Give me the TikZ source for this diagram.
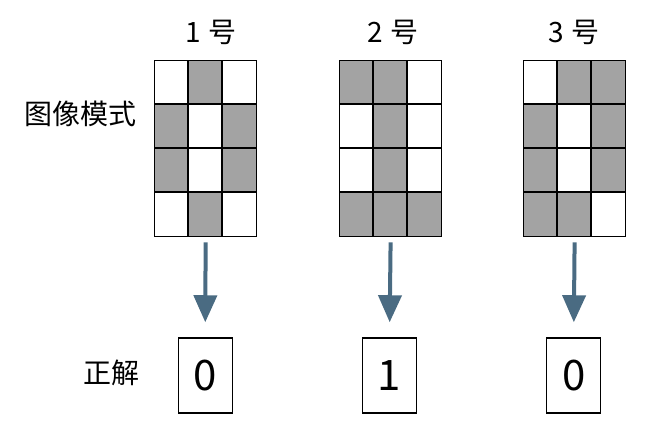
\documentclass[tikz,border=0pt]{standalone}
\usepackage{fontspec}
\setmainfont{Noto Sans CJK SC}
\usetikzlibrary{arrows.meta}
\definecolor{cellgray}{HTML}{A3A3A3}
\definecolor{arrowblue}{HTML}{4A6B82}
\tikzset{
  cellfill/.style={fill=cellgray, minimum width=34pt, minimum height=44pt, inner sep=0pt, anchor=north west},
  gridbox/.style={draw=black, line width=1.3pt, minimum width=102pt, minimum height=176pt, inner sep=0pt, anchor=north west},
  gridline/.style={draw=black, line width=1.3pt},
  ansbox/.style={draw=black, line width=1.3pt, minimum width=54pt, minimum height=75pt, inner sep=0pt, font=\fontsize{42}{46}\selectfont},
  toplabel/.style={font=\fontsize{28}{32}\selectfont, inner sep=0pt},
  sidelabel/.style={font=\fontsize{28}{32}\selectfont, inner sep=0pt},
  flow/.style={draw=arrowblue, line width=4pt, -{Triangle[width=23pt,length=27pt]}, shorten <=5pt, shorten >=15pt}
}
\begin{document}
\begin{tikzpicture}[x=1pt,y=-1pt]
\useasboundingbox (0,0) rectangle (653,431);
% grids
\foreach \gx/\gname/\pat in {154/a/{0,1,0,1,0,1,1,0,1,0,1,0}, 339/b/{1,1,0,0,1,0,0,1,0,1,1,1}, 523/c/{0,1,1,1,0,1,1,0,1,1,1,0}}{
  \foreach \v [count=\i from 0] in \pat {
    \pgfmathtruncatemacro{\col}{mod(\i,3)}
    \pgfmathtruncatemacro{\row}{div(\i,3)}
    \ifnum\v=1
      \node[cellfill] (\gname\i) at ({\gx+34*\col},{60+44*\row}) {};
    \fi
  }
  \node[gridbox] (\gname) at (\gx,60) {};
  \foreach \k in {1,2} {\draw[gridline] ([xshift=34*\k pt]\gname.north west) -- ([xshift=34*\k pt]\gname.south west);}
  \foreach \k in {1,2,3} {\draw[gridline] ([yshift=-44*\k pt]\gname.north west) -- ([yshift=-44*\k pt]\gname.north east);}
}
% labels
\node[toplabel] (l1) at (211,32) {1\hspace{0.3em}号};
\node[toplabel] (l2) at (393,32) {2\hspace{0.3em}号};
\node[toplabel] (l3) at (574,32) {3\hspace{0.3em}号};
\node[sidelabel] (img) at (80,114) {图像模式};
\node[sidelabel] (ans) at (111.5,373) {正解};
% answers
\node[ansbox] (r1) at (205.2,375.4) {0};
\node[ansbox] (r2) at (389.5,375.4) {1};
\node[ansbox] (r3) at (573.7,375.4) {0};
% arrows
\draw[flow] (a.south) -- (r1.north);
\draw[flow] (b.south) -- (r2.north);
\draw[flow] (c.south) -- (r3.north);
\end{tikzpicture}
\end{document}
